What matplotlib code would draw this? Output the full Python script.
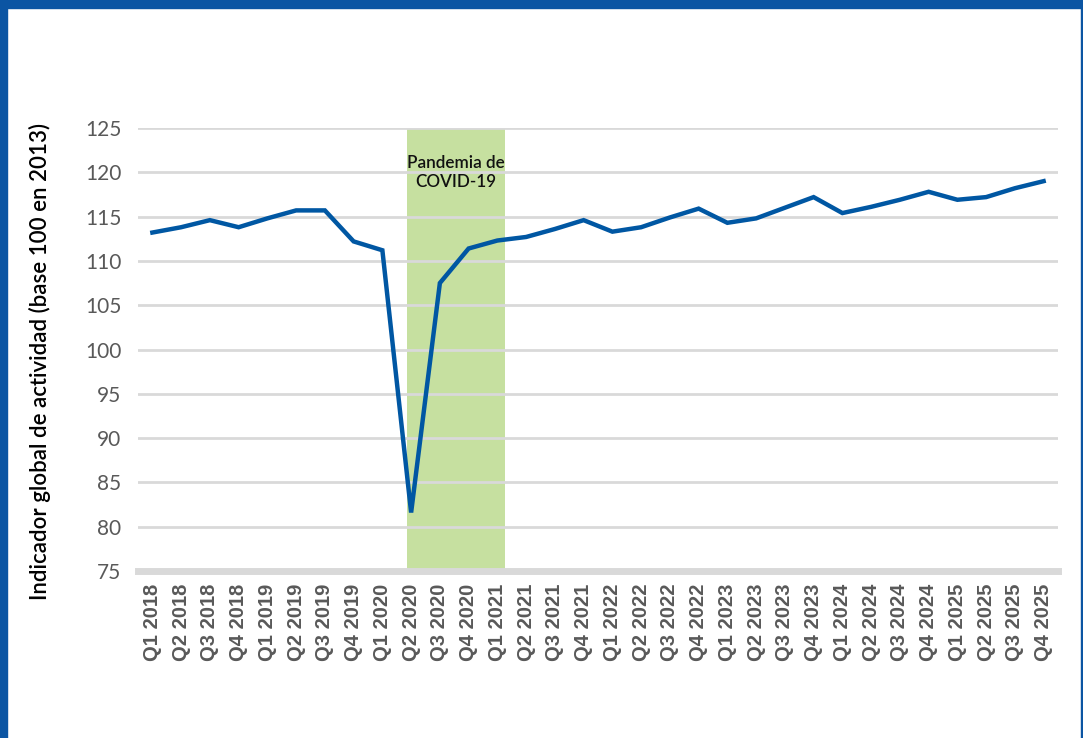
import matplotlib
matplotlib.use("Agg")
import matplotlib.pyplot as plt
from matplotlib.patches import Rectangle

quarters = ["Q1", "Q2", "Q3", "Q4"]
years = list(range(2018, 2026))
labels = [f"{q} {y}" for y in years for q in quarters]

values = [113.2, 113.8, 114.6, 113.8,
          114.8, 115.7, 115.7, 112.2,
          111.2, 81.6, 107.5, 111.4,
          112.3, 112.7, 113.6, 114.6,
          113.3, 113.8, 114.9, 115.9,
          114.3, 114.8, 116.0, 117.2,
          115.4, 116.1, 116.9, 117.8,
          116.9, 117.2, 118.2, 119.0]

band_start, band_end = "Q2 2020", "Q1 2021"
band_label = "Pandemia de\nCOVID-19"
ylabel = "Indicador global de actividad (base 100 en 2013)"
yticks = list(range(75, 130, 5))

fig = plt.figure(figsize=(10.83, 7.38), dpi=100)
ax = fig.add_axes([138/1083, 1-571/738, 920/1083, 443/738])

x = list(range(len(labels)))
i0, i1 = labels.index(band_start), labels.index(band_end)
ax.axvspan(i0 - 0.14, i1 + 0.26, color="#c6e0a0", zorder=1, lw=0)
ax.text((i0 + i1) / 2 + 0.06, 122.0, band_label, ha="center", va="top",
        fontsize=12.3, family="Lato", fontweight="semibold", color="#111111",
        linespacing=1.25, zorder=3)

ax.plot(x, values, color="#0057a3", lw=3.2, zorder=4, solid_joinstyle="miter")

ax.set_xlim(-0.5, len(labels) - 0.5)
ax.set_ylim(75, 125)
ax.set_yticks(yticks)
ax.set_yticklabels([str(v) for v in yticks], family="Lato", fontsize=15, color="#595959")
ax.set_xticks(x)
ax.set_xticklabels(labels, rotation=90, family="Liberation Sans", fontsize=14.5,
                   fontweight="bold", color="#595959")
ax.tick_params(length=0, pad=12)
ax.tick_params(axis="x", pad=9)
ax.grid(axis="y", color="#d9d9d9", lw=2, zorder=0)
for s in ["top", "right", "left"]:
    ax.spines[s].set_visible(False)
ax.spines["bottom"].set_color("#d9d9d9")
ax.spines["bottom"].set_linewidth(5)
ax.spines["bottom"].set_zorder(5)
fig.text(40/1083, 1 - 362/738, ylabel, rotation=90, ha="center", va="center",
         family="Lato", fontsize=16, fontweight="semibold", color="black")

blue = "#0b55a3"
fig.patches.append(Rectangle((0, 1 - 8/738), 1, 8/738, transform=fig.transFigure, color=blue, zorder=10))
fig.patches.append(Rectangle((0, 0), 7/1083, 1, transform=fig.transFigure, color=blue, zorder=10))
fig.patches.append(Rectangle((1 - 2.5/1083, 0), 2.5/1083, 1, transform=fig.transFigure, color=blue, zorder=10))

fig.savefig("out.png", dpi=100)
